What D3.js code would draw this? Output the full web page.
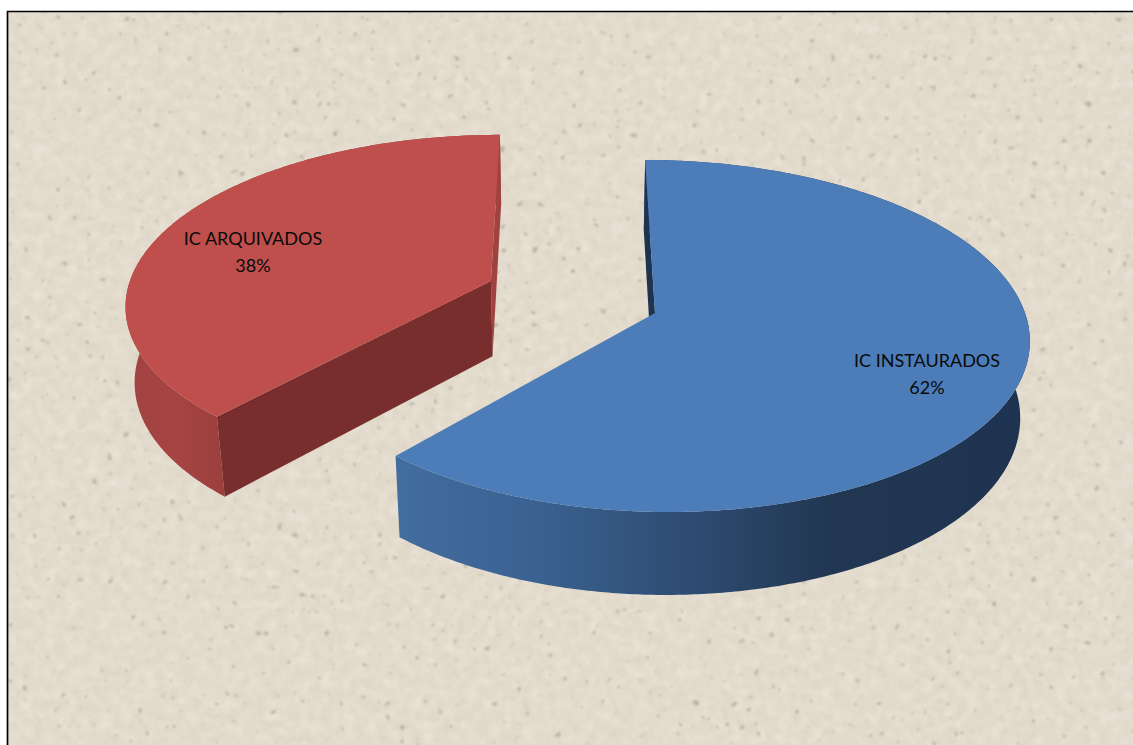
<!DOCTYPE html>
<html>
<head>
<meta charset="utf-8">
<style>
html,body{margin:0;padding:0;background:#fff;overflow:hidden}
svg{display:block}
text{font-family:Lato,"Open Sans",sans-serif;font-size:18px;fill:#0a0a0a}
</style>
<script src="https://cdnjs.cloudflare.com/ajax/libs/d3/7.8.5/d3.min.js"></script>
</head>
<body>
<svg id="c" width="1133" height="745"></svg>
<script>
// Data
const categories = ["IC INSTAURADOS", "IC ARQUIVADOS"];
const shares = [61.6, 38.4];
const shareLabels = ["62%", "38%"];

// Colours
const topColors = ["#4c7db8", "#be4f4c"];
const cutColors = ["#1e3350", "#782e2c"];
const sideColors = ["#1e3350", "#a04240"];

// Perspective camera (world units: radius = 1 in depth, R in width)
const W = 1133, H = 745;
const cam = {x0: 570, y0: 313, k: 0.1307, m: 0.021, A: 173, D: 78};
// Exploded offset and width radii of each slice on the ground plane
const offsets = [{X: 85, Z: 0, Rr: 370, Rl: 364}, {X: -81, Z: -0.19, Rr: 370, Rl: 370}];
const labelPos = [[927, 367], [253, 245]];

const project = (s, u, v, h) => {
  const o = offsets[s];
  const X = o.X + (u < 0 ? o.Rl : o.Rr) * u, Z = o.Z + v;
  const w = 1 - cam.k * Z + cam.m * h;
  return [cam.x0 + X / w, cam.y0 + (cam.A * Z + cam.D * h) / w];
};
const rim = (s, a, h) => project(s, Math.sin(a), -Math.cos(a), h);
const hub = (s, h) => project(s, 0, 0, h);

const svg = d3.select("#c");
const defs = svg.append("defs");

// Paper texture
const mott = defs.append("filter").attr("id", "mott").attr("x", 0).attr("y", 0).attr("width", 1).attr("height", 1);
mott.append("feTurbulence").attr("type", "fractalNoise").attr("baseFrequency", 0.09).attr("numOctaves", 3).attr("seed", 7).attr("result", "n");
mott.append("feColorMatrix").attr("in", "n").attr("type", "matrix")
  .attr("values", "0 0 0 0 0.96  0 0 0 0 0.94  0 0 0 0 0.89  1.4 0 0 0 -0.55");
mott.append("feGaussianBlur").attr("stdDeviation", 1);
const shade = defs.append("filter").attr("id", "shade").attr("x", 0).attr("y", 0).attr("width", 1).attr("height", 1);
shade.append("feTurbulence").attr("type", "fractalNoise").attr("baseFrequency", 0.14).attr("numOctaves", 3).attr("seed", 41).attr("result", "n");
shade.append("feColorMatrix").attr("in", "n").attr("type", "matrix")
  .attr("values", "0 0 0 0 0.62  0 0 0 0 0.57  0 0 0 0 0.48  0 0 1.6 0 -0.72");
shade.append("feGaussianBlur").attr("stdDeviation", 1);
const spk = defs.append("filter").attr("id", "spk").attr("x", 0).attr("y", 0).attr("width", 1).attr("height", 1);
spk.append("feTurbulence").attr("type", "fractalNoise").attr("baseFrequency", 0.13).attr("numOctaves", 2).attr("seed", 23).attr("result", "n");
spk.append("feColorMatrix").attr("in", "n").attr("type", "matrix")
  .attr("values", "0 0 0 0 0.33  0 0 0 0 0.30  0 0 0 0 0.25  0 16 0 0 -11.7");
spk.append("feGaussianBlur").attr("stdDeviation", 0.8);

const tex = svg.append("g");
const layer = () => tex.append("rect").attr("x", 7).attr("y", 11).attr("width", W).attr("height", H);
layer().attr("fill", "#e2dacb");
layer().attr("filter", "url(#shade)").attr("opacity", 0.5);
layer().attr("filter", "url(#mott)").attr("opacity", 0.5);
layer().attr("filter", "url(#spk)").attr("opacity", 0.55);

// Frame: left and top edge only
svg.append("path").attr("d", d3.line()([[7.5, H], [7.5, 11.5], [W, 11.5]]))
  .attr("fill", "none").attr("stroke", "#000").attr("stroke-width", 1.7);

// Side-wall gradients across the screen
const gradStops = [
  [[0, "#426d9f"], [0.22, "#3a6190"], [0.45, "#2f4d74"], [0.68, "#213752"], [1, "#1e3350"]],
  [[0, "#a34341"], [0.5, "#a54442"], [1, "#9b3f3d"]]
];
const gradRange = [[398, 1030], [130, 225]];
gradStops.forEach((st, i) => {
  const g = defs.append("linearGradient").attr("id", "side" + i).attr("gradientUnits", "userSpaceOnUse")
    .attr("x1", gradRange[i][0]).attr("x2", gradRange[i][1]).attr("y1", 0).attr("y2", 0);
  st.forEach(d => g.append("stop").attr("offset", d[0]).attr("stop-color", d[1]));
});

const slices = d3.pie().sort(null).value(d => d)(shares);
const line = d3.line();
const samples = (a0, a1) => {
  const n = Math.ceil(Math.abs(a1 - a0) / 0.01);
  const sc = d3.scaleLinear().domain([0, n]).range([a0, a1]);
  return d3.range(n + 1).map(sc);
};
const wall = (g, i, a, fill) => g.append("path")
  .attr("d", line([rim(i, a, 0), rim(i, a, 1), hub(i, 1), hub(i, 0)]) + "Z").attr("fill", fill);

const chart = svg.append("g");
// far slice (red) first, then blue
[1, 0].forEach(i => {
  const d = slices[i], angles = samples(d.startAngle, d.endAngle);
  const g = chart.append("g");
  const a0 = d.startAngle, a1 = d.endAngle;
  // outer side wall
  const top = angles.map(a => rim(i, a, 0));
  const bot = angles.map(a => rim(i, a, 1)).reverse();
  g.append("path").attr("d", line(top.concat(bot)) + "Z").attr("fill", "url(#side" + i + ")");
  // cut walls
  if (i === 0) {
    wall(g, i, a0, cutColors[0]);
  } else {
    wall(g, i, a1, sideColors[1]);
    wall(g, i, a0, cutColors[1]);
  }
  // top face
  g.append("path").attr("d", line([hub(i, 0)].concat(top)) + "Z").attr("fill", topColors[i]);
  // label
  const t = g.append("text").attr("text-anchor", "middle");
  t.append("tspan").attr("x", labelPos[i][0]).attr("y", labelPos[i][1]).text(categories[i]);
  t.append("tspan").attr("x", labelPos[i][0]).attr("y", labelPos[i][1] + 26.5).text(shareLabels[i]);
});
</script>
</body>
</html>
